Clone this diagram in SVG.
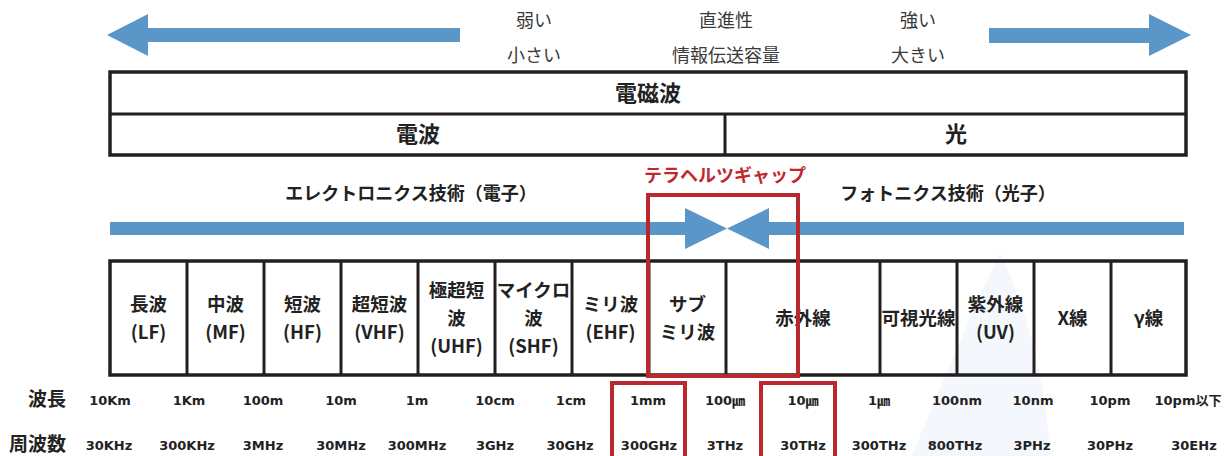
<svg xmlns="http://www.w3.org/2000/svg" width="1225" height="456" viewBox="0 0 1225 456">
<style>
.top{font-family:"Noto Sans CJK JP","Noto Sans",sans-serif;font-size:18px;font-weight:400;fill:#3a3a3a;text-anchor:middle}
.hd{font-family:"Noto Sans CJK JP","Noto Sans",sans-serif;font-size:22px;font-weight:700;fill:#222;text-anchor:middle}
.sub{font-family:"Noto Sans CJK JP","Noto Sans",sans-serif;font-size:18px;font-weight:700;fill:#222;text-anchor:middle}
.red{font-family:"Noto Sans CJK JP","Noto Sans",sans-serif;font-size:18px;font-weight:700;fill:#c1272d;text-anchor:middle}
.cell{font-family:"Noto Sans CJK JP","Noto Sans",sans-serif;font-size:18.5px;font-weight:700;fill:#222;text-anchor:middle}
.lbl{font-family:"Noto Sans CJK JP","Noto Sans",sans-serif;font-size:19px;font-weight:700;fill:#222;text-anchor:end}
.val{font-family:"DejaVu Sans","Noto Sans CJK JP",sans-serif;font-size:13px;font-weight:700;fill:#222;text-anchor:middle}
.blue{fill:#5b96c9}
.box{fill:none;stroke:#231f20;stroke-width:3.5}
.div{stroke:#231f20;stroke-width:3}
.rbox{fill:none;stroke:#b8282e;stroke-width:4}
</style>
<rect width="1225" height="456" fill="#fff"/>
<path d="M1000 252 Q955 350 912 456 L1050 456 Q1045 350 1000 252 Z" fill="#f4f7fb"/>

<g id="connectors">
  <polygon class="blue" points="107,35 148,14 148,28 460,28 460,42 148,42 148,56"/>
  <polygon class="blue" points="1191,35 1149,14 1149,28 989,28 989,43 1149,43 1149,56"/>
  <polygon class="blue" points="110,222 685,222 685,208 727,228.5 685,249 685,235 110,235"/>
  <polygon class="blue" points="1184,222 769,222 769,208 727,228.5 769,249 769,235 1184,235"/>
</g>

<g id="top-labels">
  <text class="top" x="534" y="27">弱い</text>
  <text class="top" x="534" y="62">小さい</text>
  <text class="top" x="726" y="27">直進性</text>
  <text class="top" x="726" y="62">情報伝送容量</text>
  <text class="top" x="918" y="27">強い</text>
  <text class="top" x="918" y="62">大きい</text>
</g>

<g id="em-table">
  <rect class="box" x="110" y="72" width="1076" height="83"/>
  <line class="div" x1="110" y1="114" x2="1186" y2="114"/>
  <line class="div" x1="725" y1="114" x2="725" y2="155"/>
  <text class="hd" x="648" y="101">電磁波</text>
  <text class="hd" x="418" y="142">電波</text>
  <text class="hd" x="956" y="142">光</text>
</g>

<g id="tech-labels">
  <text class="sub" x="411" y="200">エレクトロニクス技術（電子）</text>
  <text class="sub" x="948" y="200">フォトニクス技術（光子）</text>
  <text class="red" x="725" y="182">テラヘルツギャップ</text>
</g>

<g id="band-table">
  <rect class="box" x="110" y="261" width="1076" height="114"/>
  <g class="div">
    <line x1="187" y1="261" x2="187" y2="375"/>
    <line x1="264" y1="261" x2="264" y2="375"/>
    <line x1="341" y1="261" x2="341" y2="375"/>
    <line x1="418" y1="261" x2="418" y2="375"/>
    <line x1="495" y1="261" x2="495" y2="375"/>
    <line x1="572" y1="261" x2="572" y2="375"/>
    <line x1="649" y1="261" x2="649" y2="375"/>
    <line x1="726" y1="261" x2="726" y2="375"/>
    <line x1="880" y1="261" x2="880" y2="375"/>
    <line x1="957" y1="261" x2="957" y2="375"/>
    <line x1="1034" y1="261" x2="1034" y2="375"/>
    <line x1="1111" y1="261" x2="1111" y2="375"/>
  </g>
  <g id="lf"><text class="cell" x="148.5" y="311">長波</text><text class="cell" x="148.5" y="339">(LF)</text></g>
  <g id="mf"><text class="cell" x="225.5" y="311">中波</text><text class="cell" x="225.5" y="339">(MF)</text></g>
  <g id="hf"><text class="cell" x="302.5" y="311">短波</text><text class="cell" x="302.5" y="339">(HF)</text></g>
  <g id="vhf"><text class="cell" x="379.5" y="311">超短波</text><text class="cell" x="379.5" y="339">(VHF)</text></g>
  <g id="uhf"><text class="cell" x="456.5" y="297">極超短</text><text class="cell" x="456.5" y="325">波</text><text class="cell" x="456.5" y="353">(UHF)</text></g>
  <g id="shf"><text class="cell" x="533.5" y="297">マイクロ</text><text class="cell" x="533.5" y="325">波</text><text class="cell" x="533.5" y="353">(SHF)</text></g>
  <g id="ehf"><text class="cell" x="610.5" y="311">ミリ波</text><text class="cell" x="610.5" y="339">(EHF)</text></g>
  <g id="submm"><text class="cell" x="687.5" y="311">サブ</text><text class="cell" x="687.5" y="339">ミリ波</text></g>
  <g id="ir"><text class="cell" x="803" y="325">赤外線</text></g>
  <g id="vis"><text class="cell" x="918.5" y="325">可視光線</text></g>
  <g id="uv"><text class="cell" x="995.5" y="311">紫外線</text><text class="cell" x="995.5" y="339">(UV)</text></g>
  <g id="xray"><text class="cell" x="1072.5" y="325">X線</text></g>
  <g id="gamma"><text class="cell" x="1148.5" y="325">γ線</text></g>
</g>

<g id="thz-gap">
  <rect class="rbox" x="648" y="195" width="150" height="181"/>
  <rect class="rbox" x="612" y="383" width="73" height="80"/>
  <rect class="rbox" x="761" y="383" width="74" height="80"/>
</g>

<g id="wavelength">
  <text class="lbl" x="66" y="406">波長</text>
  <text class="val" x="110" y="405">10Km</text>
  <text class="val" x="189" y="405">1Km</text>
  <text class="val" x="263" y="405">100m</text>
  <text class="val" x="341" y="405">10m</text>
  <text class="val" x="417" y="405">1m</text>
  <text class="val" x="495" y="405">10cm</text>
  <text class="val" x="571" y="405">1cm</text>
  <text class="val" x="648" y="405">1mm</text>
  <text class="val" x="725" y="405">100㎛</text>
  <text class="val" x="803" y="405">10㎛</text>
  <text class="val" x="879" y="405">1㎛</text>
  <text class="val" x="957" y="405">100nm</text>
  <text class="val" x="1033" y="405">10nm</text>
  <text class="val" x="1110" y="405">10pm</text>
  <text class="val" x="1188" y="405">10pm以下</text>
</g>

<g id="frequency">
  <text class="lbl" x="66" y="451">周波数</text>
  <text class="val" x="109" y="450">30KHz</text>
  <text class="val" x="187" y="450">300KHz</text>
  <text class="val" x="263" y="450">3MHz</text>
  <text class="val" x="341" y="450">30MHz</text>
  <text class="val" x="417" y="450">300MHz</text>
  <text class="val" x="495" y="450">3GHz</text>
  <text class="val" x="570" y="450">30GHz</text>
  <text class="val" x="649" y="450">300GHz</text>
  <text class="val" x="725" y="450">3THz</text>
  <text class="val" x="803" y="450">30THz</text>
  <text class="val" x="879" y="450">300THz</text>
  <text class="val" x="955" y="450">800THz</text>
  <text class="val" x="1032" y="450">3PHz</text>
  <text class="val" x="1110" y="450">30PHz</text>
  <text class="val" x="1194" y="450">30EHz</text>
</g>
</svg>
